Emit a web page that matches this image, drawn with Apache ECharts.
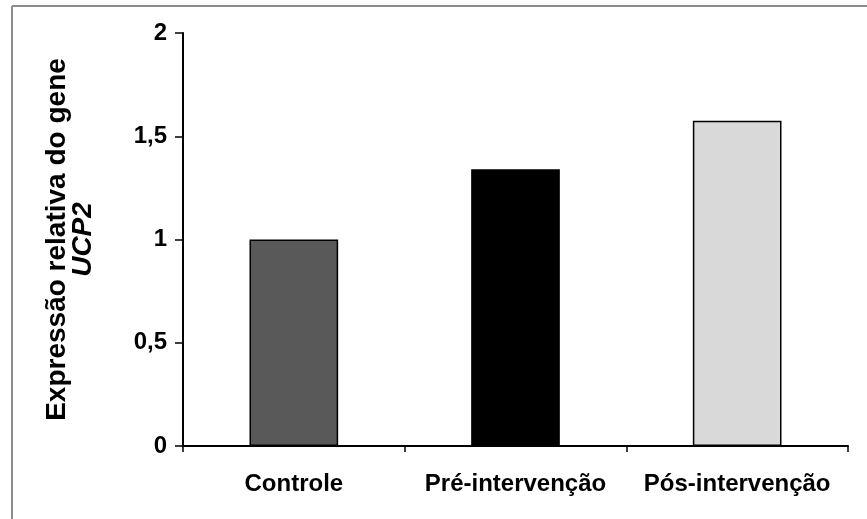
<!DOCTYPE html>
<html>
<head>
<meta charset="utf-8">
<script src="https://cdn.jsdelivr.net/npm/echarts@6/dist/echarts.min.js"></script>
<style>
html,body{margin:0;padding:0;background:#fff;}
#c{width:867px;height:519px;}
</style>
</head>
<body>
<div id="c"></div>
<script>
var categories = ['Controle', 'Pré-intervenção', 'Pós-intervenção'];
var values = [1.0, 1.34, 1.575];
var barColors = ['#595959', '#000000', '#d9d9d9'];
var yTicks = [0, 0.5, 1, 1.5, 2];

var chart = echarts.init(document.getElementById('c'), null, {renderer: 'canvas'});
var FONT = '"Liberation Sans", Arial, sans-serif';
chart.setOption({
  backgroundColor: '#fff',
  animation: false,
  graphic: [
    {type: 'line', shape: {x1: 12, y1: 6, x2: 867, y2: 6}, style: {stroke: '#8c8c8c', lineWidth: 2}},
    {type: 'line', shape: {x1: 12, y1: 6, x2: 12, y2: 519}, style: {stroke: '#8c8c8c', lineWidth: 2}}
  ],
  grid: {left: 183, right: 19, top: 33, bottom: 73, containLabel: false},
  xAxis: {
    type: 'category',
    data: categories,
    axisLine: {lineStyle: {color: '#000', width: 2}},
    axisTick: {show: true, length: 6, lineStyle: {color: '#000', width: 1.5}},
    axisLabel: {color: '#000', fontFamily: FONT, fontWeight: 'bold', fontSize: 24, margin: 26, interval: 0}
  },
  yAxis: {
    type: 'value',
    min: yTicks[0],
    max: yTicks[yTicks.length - 1],
    interval: 0.5,
    splitLine: {show: false},
    axisLine: {show: true, lineStyle: {color: '#000', width: 2}},
    axisTick: {show: true, length: 8, lineStyle: {color: '#000', width: 1.5}},
    axisLabel: {
      color: '#000', fontFamily: FONT, fontWeight: 'bold', fontSize: 24, margin: 16,
      formatter: function (v) { return String(v).replace('.', ','); }
    },
    name: '{a|Expressão relativa do gene}\n{b|UCP2}',
    nameLocation: 'middle',
    nameRotate: 90,
    nameGap: 87,
    nameTextStyle: {
      color: '#000',
      align: 'center',
      rich: {
        a: {fontFamily: FONT, fontWeight: 'bold', fontSize: 28, color: '#000', lineHeight: 26},
        b: {fontFamily: FONT, fontWeight: 'bold', fontStyle: 'italic', fontSize: 28, color: '#000', lineHeight: 26}
      }
    }
  },
  series: [{
    type: 'bar',
    barCategoryGap: '60%',
    data: values.map(function (v, i) {
      return {value: v, itemStyle: {color: barColors[i], borderColor: '#000', borderWidth: 1.5}};
    })
  }]
});
</script>
</body>
</html>
